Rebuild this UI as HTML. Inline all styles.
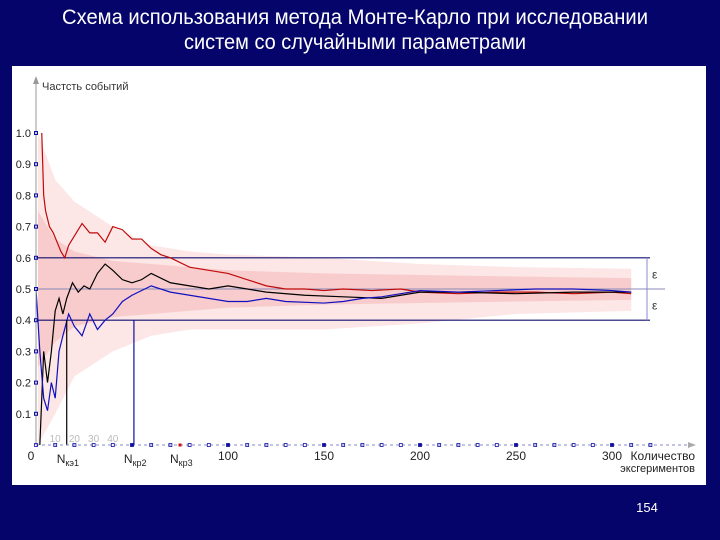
<!DOCTYPE html>
<html><head><meta charset="utf-8"><style>
html,body{margin:0;padding:0;background:#04046a;width:720px;height:540px;overflow:hidden}
svg{display:block}
</style></head><body>
<svg width="720" height="540" xmlns="http://www.w3.org/2000/svg">
<rect width="720" height="540" fill="#04046a"/>
<g font-family="'Liberation Sans Narrow','Liberation Sans',sans-serif" fill="#fff" font-size="21" text-anchor="middle">
<text x="355" y="24" textLength="586" lengthAdjust="spacingAndGlyphs">Схема использования метода Монте-Карло при исследовании</text>
<text x="355" y="49" textLength="342" lengthAdjust="spacingAndGlyphs">систем со случайными параметрами</text>
</g>
<rect x="12" y="66" width="694" height="419" fill="#fff"/>
<text x="647" y="512" fill="#fff" font-family="'Liberation Sans',sans-serif" font-size="13" text-anchor="middle">154</text>
<g id="chart"></g>
</svg>
<script>
const yTicks=[0.1,0.2,0.3,0.4,0.5,0.6,0.7,0.8,0.9,1.0];
const xTickLabels=[100,150,200,250,300];
const smallXLabels=[10,20,30,40];
const redN=[3,4,5,7,9,11,13,15,17,20,24,28,32,36,40,45,50,55,60,65,70,80,90,100,110,120,130,140,150,160,175,190,200,220,240,260,280,300,310];
const redV=[1.0,0.8,0.75,0.7,0.68,0.65,0.62,0.6,0.64,0.67,0.71,0.68,0.68,0.65,0.7,0.69,0.66,0.66,0.63,0.61,0.6,0.57,0.56,0.55,0.53,0.51,0.5,0.5,0.495,0.5,0.495,0.5,0.49,0.485,0.49,0.49,0.485,0.49,0.485];
const blackN=[2,4,6,8,10,12,14,16,19,22,25,28,32,36,40,45,50,55,60,70,80,90,100,120,140,160,180,190,200,220,250,280,300,310];
const blackV=[0.0,0.3,0.2,0.3,0.43,0.47,0.42,0.47,0.52,0.49,0.51,0.5,0.55,0.58,0.56,0.53,0.52,0.53,0.55,0.52,0.51,0.5,0.51,0.49,0.48,0.475,0.47,0.48,0.49,0.49,0.485,0.49,0.49,0.49];
const blueN=[0,2,4,6,8,10,12,14,17,20,24,28,32,36,40,45,50,60,70,80,90,100,110,120,130,150,160,170,180,200,220,240,260,280,300,310];
const blueV=[0.5,0.3,0.15,0.11,0.2,0.15,0.3,0.35,0.42,0.38,0.35,0.42,0.37,0.4,0.42,0.46,0.48,0.51,0.49,0.48,0.47,0.46,0.46,0.47,0.46,0.455,0.46,0.47,0.475,0.495,0.49,0.495,0.5,0.5,0.495,0.49];
const bandN=[1,10,20,40,60,80,100,150,200,250,310];
const bandUpper=[1.0,0.85,0.78,0.7,0.64,0.62,0.61,0.6,0.58,0.57,0.565];
const bandLower=[0.0,0.1,0.22,0.3,0.35,0.37,0.37,0.37,0.39,0.42,0.43];
const innerUpper=[0.75,0.66,0.62,0.59,0.58,0.57,0.56,0.55,0.545,0.54,0.535];
const innerLower=[0.25,0.33,0.38,0.41,0.42,0.43,0.44,0.45,0.455,0.46,0.465];
const critN=[16,51,75];

const X=n=>36+n*1.92, Y=v=>445-v*312;
const NS='http://www.w3.org/2000/svg';
const g=document.getElementById('chart');
function mk(t,a){const e=document.createElementNS(NS,t);for(const k in a)e.setAttribute(k,a[k]);g.appendChild(e);return e;}
function band(up,lo,fill,name){
 let d='M'+bandN.map((n,i)=>X(n)+','+Y(up[i])).join(' L');
 for(let i=bandN.length-1;i>=0;i--)d+=' L'+X(bandN[i])+','+Y(lo[i]);
 const e=mk('path',{d:d+'Z',fill:fill});
 
 
}
band(bandUpper,bandLower,'#fce6e6','trial-envelope-outer');
band(innerUpper,innerLower,'#f8cccc','trial-envelope-inner');
[[0.6,'limit-upper',650,'#101070',1.2],[0.4,'limit-lower',650,'#101070',1.2],[0.5,'probability-line',665,'#8a8ab8',1]].forEach(r=>{
 const e=mk('line',{x1:36,x2:r[2],y1:Y(r[0]),y2:Y(r[0]),stroke:r[3],'stroke-width':r[4]});
 
 
});
[[0.6,0.5],[0.5,0.4]].forEach((p,i)=>{
 const e=mk('line',{x1:647,x2:647,y1:Y(p[0]),y2:Y(p[1]),stroke:'#8888cc','stroke-width':1});
 
 
 const t=mk('text',{x:652,y:(Y(p[0])+Y(p[1]))/2+5,'font-size':12,'font-family':'Liberation Sans,sans-serif',fill:'#333'});
 t.textContent='ε';
 
 
});
function series(N,V,col,name){
 const e=mk('polyline',{points:N.map((n,i)=>X(n)+','+Y(V[i])).join(' '),fill:'none',stroke:col,'stroke-width':1.2});
 
 
}
series(redN,redV,'#c00a0a','series-red');
series(blackN,blackV,'#000','series-black');
series(blueN,blueV,'#1010c0','series-blue');
critN.slice(0,2).forEach((n,i)=>{
 const e=mk('line',{x1:X(n),x2:X(n),y1:Y(0.4),y2:445,stroke:i?'#1010a0':'#000','stroke-width':1.2});
 
 
});
let e=mk('line',{x1:36,x2:36,y1:445,y2:78,stroke:'#999','stroke-width':1});


e=mk('path',{d:'M33,84 L36,76 L39,84Z',fill:'#999'});


e=mk('line',{x1:36,x2:692,y1:445,y2:445,stroke:'#8888cc','stroke-width':1,'stroke-dasharray':'3,3'});


e=mk('path',{d:'M688,442 L696,445 L688,448Z',fill:'#aaa'});


const F='Liberation Sans,sans-serif';
yTicks.forEach(v=>{
 const r=mk('rect',{x:34.5,y:Y(v)-1.5,width:3,height:3,fill:'none',stroke:'#1010a0','stroke-width':1});
 
 
 const t=mk('text',{x:31,y:Y(v)+4,'font-size':11,'font-family':F,'text-anchor':'end',fill:'#222'});
 t.textContent=v.toFixed(1);
 
 
});
for(let n=0;n<=320;n+=10){
 const r=mk('rect',{x:X(n)-1.5,y:443.5,width:3,height:3,fill:n%50===0&&n>0?'#1010a0':'none',stroke:'#1010a0','stroke-width':0.8});
 
 
}
xTickLabels.forEach(v=>{
 const t=mk('text',{x:X(v),y:460,'font-size':12,'font-family':F,'text-anchor':'middle',fill:'#222'});
 t.textContent=v;
 
 
});
smallXLabels.forEach(v=>{
 const t=mk('text',{x:X(v),y:442,'font-size':10,'font-family':F,'text-anchor':'middle',fill:'#bbb'});
 t.textContent=v;
 
 
});
e=mk('text',{x:31,y:460,'font-size':12,'font-family':F,fill:'#222','text-anchor':'middle'});e.textContent='0';


['кэ1','кр2','кр3'].forEach((s,i)=>{
 const t=mk('text',{x:X(critN[i])-10,y:463,'font-size':12,'font-family':F,fill:'#222'});
 t.innerHTML='N<tspan font-size="9" dy="3">'+s+'</tspan>';
 
 
});
e=mk('rect',{x:X(critN[2])-1.5,y:443.5,width:3,height:3,fill:'#cc1010'});


e=mk('text',{x:42,y:90,'font-size':11,'font-family':F,fill:'#333'});e.textContent='Частсть событий';


e=mk('text',{x:695,y:460,'font-size':12,'font-family':F,fill:'#222','text-anchor':'end'});e.textContent='Количество';


e=mk('text',{x:695,y:472,'font-size':11,'font-family':F,fill:'#222','text-anchor':'end'});e.textContent='эксгериментов';


</script>
</body></html>
